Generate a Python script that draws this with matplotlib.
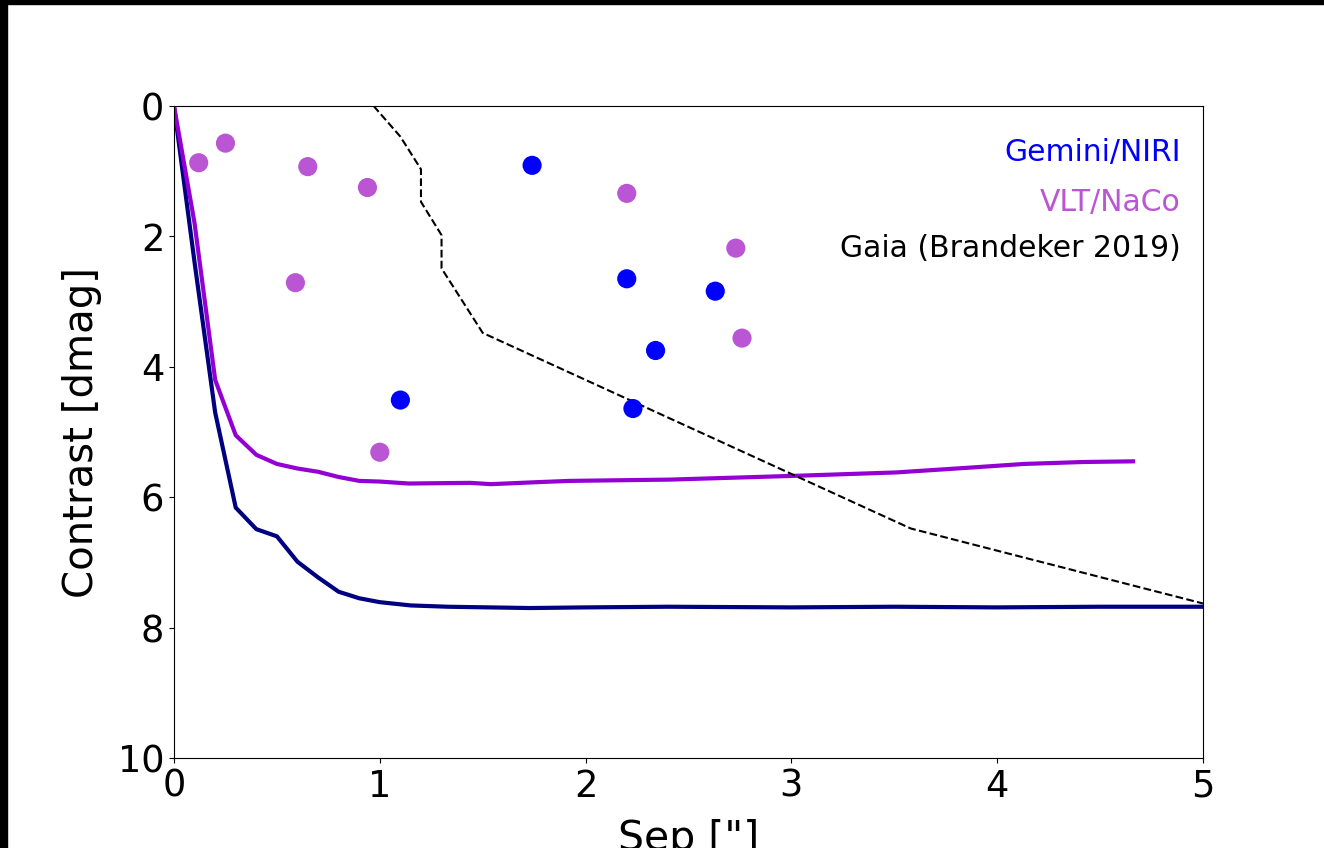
import matplotlib
matplotlib.use('Agg')
import matplotlib.pyplot as plt
from matplotlib.patches import Rectangle

# Detection limits (contrast curves)
niri_sep = [0.0, 0.1, 0.2, 0.3, 0.4, 0.5, 0.6, 0.7, 0.8, 0.9, 1.0, 1.15, 1.33, 1.73, 2.0, 2.4, 3.0, 3.5, 4.0, 4.5, 5.0]
niri_dmag = [0.0, 2.4, 4.7, 6.16, 6.49, 6.60, 6.99, 7.23, 7.45, 7.55, 7.61, 7.66, 7.68, 7.70, 7.69, 7.68, 7.69, 7.68, 7.69, 7.68, 7.68]

naco_sep = [0.0, 0.1, 0.2, 0.3, 0.4, 0.5, 0.6, 0.7, 0.8, 0.9, 1.0, 1.14, 1.44, 1.54, 1.76, 1.92, 2.41, 3.04, 3.51, 3.85, 4.13, 4.42, 4.66]
naco_dmag = [0.0, 1.8, 4.2, 5.05, 5.35, 5.49, 5.56, 5.61, 5.69, 5.75, 5.76, 5.79, 5.78, 5.80, 5.77, 5.75, 5.73, 5.67, 5.62, 5.55, 5.49, 5.46, 5.45]

gaia_sep = [0.97, 1.1, 1.2, 1.2, 1.3, 1.3, 1.5, 3.58, 5.0]
gaia_dmag = [0.0, 0.47, 0.97, 1.47, 1.98, 2.49, 3.48, 6.48, 7.63]

# Detected companions
niri_pts_sep = [1.74, 2.20, 2.63, 2.34, 2.23, 1.10]
niri_pts_dmag = [0.91, 2.65, 2.84, 3.75, 4.64, 4.51]

naco_pts_sep = [0.12, 0.25, 0.65, 0.94, 0.59, 1.00, 2.20, 2.73, 2.76]
naco_pts_dmag = [0.87, 0.57, 0.93, 1.25, 2.71, 5.31, 1.34, 2.18, 3.56]

fig = plt.figure(figsize=(13.24, 8.48), dpi=100)
ax = fig.add_axes([174/1324, 1 - 758/848, (1203-174)/1324, (758-106)/848])

ax.plot(niri_sep, niri_dmag, color='navy', lw=3)
ax.plot(naco_sep, naco_dmag, color='darkviolet', lw=3)
ax.plot(gaia_sep, gaia_dmag, 'k--', lw=1.5)
ax.scatter(niri_pts_sep, niri_pts_dmag, s=190, color='blue', zorder=3, edgecolors='none')
ax.scatter(naco_pts_sep, naco_pts_dmag, s=190, color='mediumorchid', zorder=3, edgecolors='none')

ax.set_xlim(0, 5)
ax.set_ylim(10, 0)
ax.set_xticks([0, 1, 2, 3, 4, 5])
ax.set_yticks([0, 2, 4, 6, 8, 10])
ax.tick_params(labelsize=26.5)
ax.set_xlabel('Sep ["]', fontsize=29.5, labelpad=10)
ax.set_ylabel('Contrast [dmag]', fontsize=29, labelpad=11)

ax.text(0.9786, 0.928, 'Gemini/NIRI', color='blue', fontsize=21.5,
        ha='right', va='center', transform=ax.transAxes)
ax.text(0.9786, 0.852, 'VLT/NaCo', color='mediumorchid', fontsize=21.5,
        ha='right', va='center', transform=ax.transAxes)
ax.text(0.9786, 0.782, 'Gaia (Brandeker 2019)', color='black', fontsize=21.5,
        ha='right', va='center', transform=ax.transAxes)

# black screenshot edges
fig.patches.append(Rectangle((0, 1 - 4/848), 1, 4/848, transform=fig.transFigure,
                             color='black', zorder=10))
fig.patches.append(Rectangle((0, 0), 7/1324, 1, transform=fig.transFigure,
                             color='black', zorder=10))

fig.savefig('out.png', dpi=100)
